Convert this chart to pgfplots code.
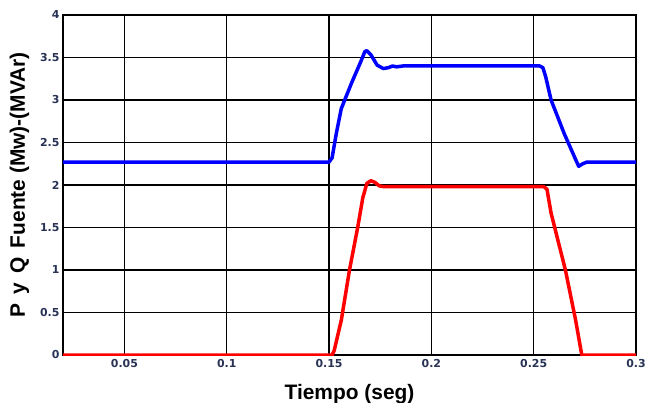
\documentclass[border=0pt]{standalone}
\usepackage{pgfplots}
\pgfplotsset{compat=1.18}
\usepackage{fontspec}
\setmainfont{DejaVu Sans}
\newfontfamily\labelfont{Liberation Sans}
\usetikzlibrary{calc}
\definecolor{ticktext}{RGB}{40,50,85}
\begin{document}
\begin{tikzpicture}
\begin{axis}[
  scale only axis,
  width=573bp, height=340bp,
  xmin=0.02, xmax=0.3, ymin=0, ymax=4,
  xtick={0.05,0.1,0.15,0.2,0.25,0.3},
  xticklabels={0.05,0.1,0.15,0.2,0.25,0.3},
  ytick={0,0.5,1,1.5,2,2.5,3,3.5,4},
  yticklabels={0,0.5,1,1.5,2,2.5,3,3.5,4},
  grid=major,
  major grid style={black, line width=1.25bp},
  axis line style={black, line width=1.25bp},
  tick style={draw=none},
  tick label style={font=\fontsize{11}{12}\selectfont\bfseries, text=ticktext},
  xticklabel style={yshift=-1bp},
  yticklabel style={xshift=0bp},
  xlabel={\labelfont\fontsize{21}{23}\selectfont\bfseries Tiempo (seg)},
  ylabel={\labelfont\fontsize{21}{23}\selectfont\bfseries P\, y\, Q\, Fuente (Mw)-(MVAr)},
  xlabel style={at={(axis description cs:0.5,0)}, anchor=base, yshift=-44bp},
  ylabel style={at={(axis description cs:0,0.5)}, anchor=base, yshift=38bp},
  clip=true,
]
\addplot[blue, line width=3.5bp, line join=round] coordinates {
(0.02,2.27) (0.150,2.27) (0.1515,2.32) (0.1535,2.6) (0.156,2.9) (0.161,3.2)
(0.1655,3.45) (0.1675,3.57) (0.1685,3.58) (0.1705,3.53) (0.1735,3.41)
(0.1765,3.37) (0.179,3.38) (0.181,3.40) (0.183,3.39) (0.186,3.40)
(0.253,3.40) (0.2545,3.38) (0.2558,3.28) (0.2585,3.0) (0.265,2.6)
(0.2705,2.3) (0.272,2.22) (0.274,2.25) (0.276,2.27) (0.3,2.27)
};
\addplot[red, line width=3.5bp, line join=round] coordinates {
(0.02,0) (0.1515,0) (0.1525,0.05) (0.156,0.41) (0.160,1.0) (0.164,1.5)
(0.1665,1.85) (0.1685,2.02) (0.1705,2.05) (0.1725,2.03) (0.1745,1.99)
(0.177,1.98) (0.255,1.98) (0.2565,1.95) (0.2585,1.67) (0.2655,1.0)
(0.2705,0.41) (0.2735,0) (0.3,0)
};
\end{axis}
\pgfresetboundingbox
\path[use as bounding box] ($(current axis.south west)+(-63bp,-48bp)$) rectangle ($(current axis.north east)+(10bp,15bp)$);
\end{tikzpicture}
\end{document}
